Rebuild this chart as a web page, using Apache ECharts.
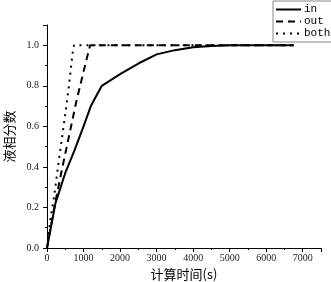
<!DOCTYPE html>
<html>
<head>
<meta charset="utf-8">
<script src="https://cdn.jsdelivr.net/npm/echarts@6/dist/echarts.min.js"></script>
<style>
  html, body { margin: 0; padding: 0; background: #fff; }
  #chartContainer { width: 331px; height: 282px; }
</style>
</head>
<body>
<div id="chartContainer"></div>
<script>
// values: [time (s), liquid fraction]
const inData = [[0, 0], [230, 0.22], [500, 0.37], [750, 0.48], [1000, 0.60], [1200, 0.70], [1500, 0.80],
    [2000, 0.858], [2500, 0.91], [3000, 0.955], [3500, 0.976], [4000, 0.99], [4500, 0.997], [5000, 1.0], [6750, 1.0]];
const outData = [[0, 0], [200, 0.2], [400, 0.38], [600, 0.55], [800, 0.72], [1000, 0.87], [1180, 1.0], [6750, 1.0]];
const bothData = [[0, 0], [100, 0.15], [200, 0.26], [300, 0.40], [400, 0.53], [500, 0.66], [600, 0.80], [700, 0.96], [740, 1.0], [6750, 1.0]];
const seriesNames = ['in', 'out', 'both'];

const chart = echarts.init(document.getElementById('chartContainer'));

const numFont = 'Liberation Serif';
const legendFont = 'Liberation Mono';
const cjkFont = 'Noto Sans CJK SC';

function axisCommon() {
    return {
        axisLine: { show: true, onZero: false, lineStyle: { color: '#000', width: 1 } },
        axisTick: { show: true, inside: false, length: 4, lineStyle: { color: '#000' } },
        minorTick: { show: true, splitNumber: 2, length: 2, lineStyle: { color: '#000' } },
        splitLine: { show: false },
        nameLocation: 'middle',
        nameTextStyle: { fontFamily: cjkFont, fontSize: 13, color: '#000' }
    };
}

const option = {
    animation: false,
    backgroundColor: '#fff',
    grid: { left: 47, right: 10, top: 25, bottom: 34, containLabel: false, outerBoundsMode: 'none' },
    legend: {
        data: seriesNames,
        orient: 'vertical',
        left: 273, top: 1,
        padding: [3, 2, 3, 2],
        itemWidth: 25, itemHeight: 12, itemGap: 1,
        borderColor: '#888', borderWidth: 1,
        backgroundColor: '#fff',
        itemStyle: { opacity: 0 },
        textStyle: { fontFamily: legendFont, fontSize: 11, color: '#000', padding: [0, 0, 0, -2] }
    },
    xAxis: Object.assign(axisCommon(), {
        type: 'value', min: 0, max: 7500, interval: 1000,
        name: '计算时间(s)', nameGap: 16,
        axisLabel: { showMaxLabel: false, fontFamily: numFont, fontSize: 10, color: '#222', margin: 5,
            formatter: v => String(v) }
    }),
    yAxis: Object.assign(axisCommon(), {
        type: 'value', min: 0, max: 1.1, interval: 0.2,
        name: '液相分数', nameGap: 31,
        axisLabel: { showMaxLabel: false, fontFamily: numFont, fontSize: 10, color: '#222', margin: 8,
            formatter: v => v.toFixed(1) }
    }),
    series: [
        { name: 'in', type: 'line', data: inData, symbol: 'none',
          lineStyle: { color: '#000', width: 2, type: 'solid' }, itemStyle: { color: '#000' } },
        { name: 'out', type: 'line', data: outData, symbol: 'none',
          lineStyle: { color: '#000', width: 2, type: [7, 5] }, itemStyle: { color: '#000' } },
        { name: 'both', type: 'line', data: bothData, symbol: 'none',
          lineStyle: { color: '#000', width: 2, type: [2, 5] }, itemStyle: { color: '#000' } }
    ]
};

chart.setOption(option);
</script>
</body>
</html>
